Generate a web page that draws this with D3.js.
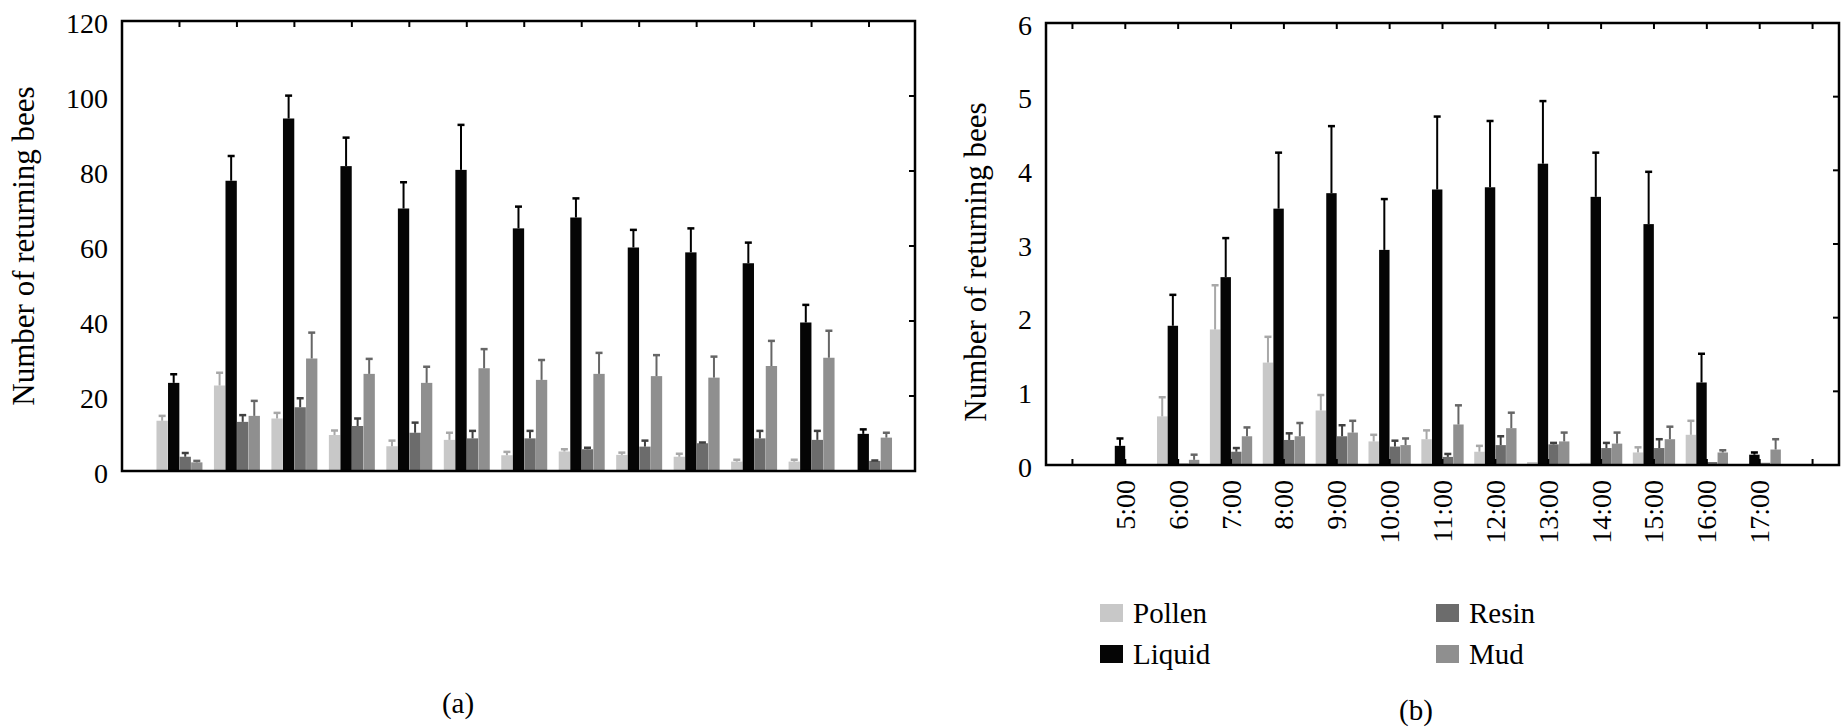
<!DOCTYPE html>
<html><head><meta charset="utf-8">
<script src="https://cdn.jsdelivr.net/npm/d3@7"></script>
<style>
body{margin:0;background:#fff}
svg{display:block;background:#fff}
</style>
</head><body>
<svg id="chart" width="1842" height="728"></svg>
<script>
// ---------- data ----------
const hours = [5,6,7,8,9,10,11,12,13,14,15,16,17];
const hourLabels = ["5:00","6:00","7:00","8:00","9:00","10:00","11:00","12:00","13:00","14:00","15:00","16:00","17:00"];
const seriesNames = ["Pollen","Liquid","Resin","Mud"];

// Panel (a)
const pollenA    = [13.4, 22.8, 14.0, 9.6, 6.6, 8.3, 4.2, 5.2, 4.3, 3.8, 2.5, 2.5, 0];
const pollenAErr = [1.3, 3.4, 1.5, 1.2, 1.5, 1.9, 0.9, 0.6, 0.6, 0.8, 0.5, 0.5, 0];
const liquidA    = [23.5, 77.4, 94.0, 81.3, 70.0, 80.3, 64.7, 67.6, 59.6, 58.3, 55.4, 39.6, 9.9];
const liquidAErr = [2.3, 6.6, 6.1, 7.6, 7.0, 12.0, 5.8, 5.1, 4.7, 6.4, 5.5, 4.7, 1.2];
const resinA     = [3.8, 13.1, 17.0, 12.0, 10.2, 8.7, 8.7, 5.8, 6.5, 7.4, 8.7, 8.3, 2.7];
const resinAErr  = [1.0, 1.8, 2.4, 2.0, 2.7, 2.0, 2.0, 0.4, 1.6, 0.2, 2.0, 2.4, 0.1];
const mudA       = [2.3, 14.7, 30.0, 25.9, 23.5, 27.4, 24.3, 25.9, 25.3, 24.9, 28.0, 30.2, 8.9];
const mudAErr    = [0.4, 4.0, 6.9, 4.0, 4.3, 5.1, 5.3, 5.6, 5.6, 5.6, 6.7, 7.2, 1.3];

// Panel (b)
const pollenB    = [0, 0.66, 1.84, 1.39, 0.74, 0.32, 0.35, 0.18, 0.04, 0.03, 0.17, 0.41, 0];
const pollenBErr = [0, 0.26, 0.60, 0.35, 0.21, 0.09, 0.12, 0.08, 0, 0, 0.07, 0.19, 0];
const liquidB    = [0.26, 1.89, 2.55, 3.48, 3.69, 2.92, 3.74, 3.77, 4.09, 3.64, 3.27, 1.12, 0.14];
const liquidBErr = [0.10, 0.42, 0.53, 0.76, 0.91, 0.69, 0.99, 0.90, 0.85, 0.60, 0.71, 0.39, 0.03];
const resinB     = [0, 0.02, 0.18, 0.34, 0.39, 0.25, 0.11, 0.27, 0.28, 0.23, 0.23, 0.04, 0.03];
const resinBErr  = [0, 0, 0.05, 0.09, 0.15, 0.08, 0.04, 0.12, 0.02, 0.07, 0.12, 0, 0];
const mudB       = [0, 0.07, 0.39, 0.39, 0.44, 0.27, 0.55, 0.50, 0.32, 0.29, 0.35, 0.17, 0.21];
const mudBErr    = [0, 0.07, 0.12, 0.18, 0.16, 0.09, 0.26, 0.21, 0.12, 0.15, 0.17, 0.03, 0.14];

const yTicksA = [0, 20, 40, 60, 80, 100, 120];
const yTicksB = [0, 1, 2, 3, 4, 5, 6];
const yTitle = "Number of returning bees";

// ---------- font: pick the first installed serif family ----------
const fontCandidates = ["Liberation Serif","Tinos","Times New Roman","Nimbus Roman","Nimbus Roman No9 L","FreeSerif","Noto Serif","DejaVu Serif","Georgia","Times"];
function pickFont() {
  const ctx = document.createElement("canvas").getContext("2d");
  const probe = "Number of returning bees 0123456789 Pollen";
  const w = f => { ctx.font = "40px " + f; return ctx.measureText(probe).width; };
  const bases = ["monospace", "sans-serif"];
  const baseW = bases.map(w);
  for (const f of fontCandidates) {
    const differs = bases.every((b, i) => Math.abs(w(`"${f}", ${b}`) - baseW[i]) > 0.5);
    if (differs) return `"${f}", serif`;
  }
  return "serif";
}
const FONT = pickFont();

// ---------- style ----------
const fillColors = {Pollen:"#c8c8c8", Liquid:"#050505", Resin:"#6c6c6c", Mud:"#8f8f8f"};
const errColors  = {Pollen:"#a8a8a8", Liquid:"#000000", Resin:"#404040", Mud:"#666666"};

const svg = d3.select("#chart").attr("font-family", FONT).style("font-family", FONT);

function drawPanel(cfg) {
  const {x0, x1, y0, y1, xDomain, yMax, yTicks, data, tickHours, bottomTicks, xLabels, titleX, titleY} = cfg;
  const g = svg.append("g");
  const x = d3.scaleLinear().domain(xDomain).range([x0, x1]);
  const y = d3.scaleLinear().domain([0, yMax]).range([y1, y0]);
  const step = x(1) - x(0);
  const inner = d3.scaleBand().domain(seriesNames).range([-step*0.4, step*0.4]).paddingInner(0.02);

  // bars
  seriesNames.forEach(name => {
    const vals = data[name].v, errs = data[name].e;
    const rows = hours.map((h, i) => ({h, v: vals[i], e: errs[i]}));
    g.append("g").selectAll("rect").data(rows).join("rect")
      .attr("x", d => x(d.h) + inner(name))
      .attr("width", inner.bandwidth())
      .attr("y", d => y(d.v))
      .attr("height", d => y(0) - y(d.v))
      .attr("fill", fillColors[name]);
    const eg = g.append("g").attr("stroke", errColors[name]);
    const er = rows.filter(d => d.e > 0);
    eg.selectAll("line.v").data(er).join("line").attr("class","v")
      .attr("x1", d => x(d.h) + inner(name) + inner.bandwidth()/2)
      .attr("x2", d => x(d.h) + inner(name) + inner.bandwidth()/2)
      .attr("y1", d => y(d.v)).attr("y2", d => y(d.v + d.e))
      .attr("stroke-width", 2);
    eg.selectAll("line.c").data(er).join("line").attr("class","c")
      .attr("x1", d => x(d.h) + inner(name) + inner.bandwidth()/2 - 3.5)
      .attr("x2", d => x(d.h) + inner(name) + inner.bandwidth()/2 + 3.5)
      .attr("y1", d => y(d.v + d.e)).attr("y2", d => y(d.v + d.e))
      .attr("stroke-width", 2.5);
  });

  // inward ticks
  const tk = g.append("g").attr("stroke", "#000").attr("stroke-width", 2);
  tk.selectAll("line.t").data(tickHours).join("line").attr("class","t")
    .attr("x1", d => x(d)).attr("x2", d => x(d)).attr("y1", y0).attr("y2", y0 + 6);
  if (bottomTicks) {
    tk.selectAll("line.b").data(tickHours).join("line").attr("class","b")
      .attr("x1", d => x(d)).attr("x2", d => x(d)).attr("y1", y1).attr("y2", y1 - 6);
  }
  tk.selectAll("line.r").data(yTicks.slice(1, -1)).join("line").attr("class","r")
    .attr("x1", x1).attr("x2", x1 - 6).attr("y1", d => y(d)).attr("y2", d => y(d));

  // frame
  g.append("rect").attr("x", x0).attr("y", y0).attr("width", x1 - x0).attr("height", y1 - y0)
    .attr("fill", "none").attr("stroke", "#000").attr("stroke-width", 2.5);

  // y labels
  g.append("g").selectAll("text").data(yTicks).join("text")
    .attr("x", x0 - 14).attr("y", d => y(d) + 2)
    .attr("text-anchor", "end").attr("dominant-baseline", "central")
    .attr("font-size", 28).text(d => d);

  // x labels
  if (xLabels) {
    g.append("g").selectAll("text").data(hours).join("text")
      .attr("transform", (d) => `translate(${x(d)},${y1 + 15}) rotate(-90)`)
      .attr("text-anchor", "end").attr("dominant-baseline", "central")
      .attr("font-size", 28).text((d, i) => xLabels[i]);
  }

  // title
  g.append("text").attr("transform", `translate(${titleX},${titleY}) rotate(-90)`)
    .attr("text-anchor", "middle").attr("dominant-baseline", "central")
    .attr("font-size", 31).text(yTitle);
}

drawPanel({
  x0: 122, x1: 915, y0: 21, y1: 471, xDomain: [4, 17.8], yMax: 120, yTicks: yTicksA,
  data: {Pollen:{v:pollenA,e:pollenAErr}, Liquid:{v:liquidA,e:liquidAErr}, Resin:{v:resinA,e:resinAErr}, Mud:{v:mudA,e:mudAErr}},
  tickHours: hours, bottomTicks: false, xLabels: null, titleX: 23, titleY: 246
});

drawPanel({
  x0: 1046, x1: 1839, y0: 23, y1: 465, xDomain: [3.5, 18.5], yMax: 6, yTicks: yTicksB,
  data: {Pollen:{v:pollenB,e:pollenBErr}, Liquid:{v:liquidB,e:liquidBErr}, Resin:{v:resinB,e:resinBErr}, Mud:{v:mudB,e:mudBErr}},
  tickHours: d3.range(4, 19), bottomTicks: true, xLabels: hourLabels, titleX: 975, titleY: 262
});

// legend
const legendPos = [
  {name:"Pollen", x:1100, y:604},
  {name:"Liquid", x:1100, y:645},
  {name:"Resin",  x:1436, y:604},
  {name:"Mud",    x:1436, y:645}
];
const lg = svg.append("g");
lg.selectAll("rect").data(legendPos).join("rect")
  .attr("x", d => d.x).attr("y", d => d.y).attr("width", 23).attr("height", 18)
  .attr("fill", d => fillColors[d.name]);
lg.selectAll("text").data(legendPos).join("text")
  .attr("x", d => d.x + 33).attr("y", d => d.y + 19)
  .attr("font-size", 29).text(d => d.name);

// panel captions
svg.append("text").attr("x", 458).attr("y", 713).attr("text-anchor","middle").attr("font-size", 29).text("(a)");
svg.append("text").attr("x", 1416).attr("y", 720).attr("text-anchor","middle").attr("font-size", 29).text("(b)");
</script>
</body></html>
